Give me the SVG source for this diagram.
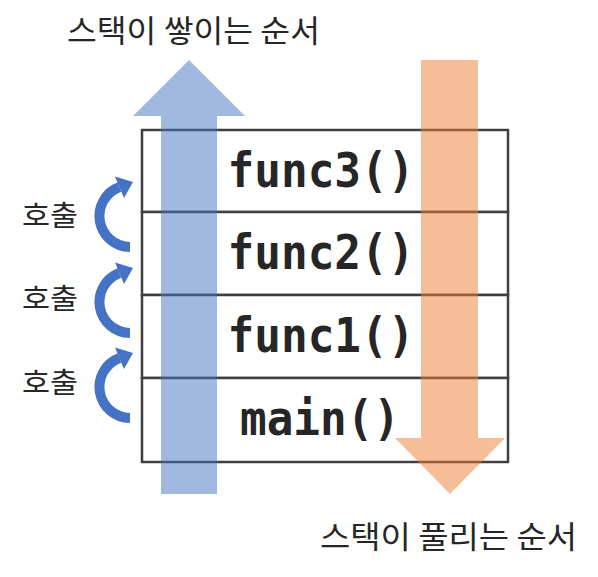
<svg xmlns="http://www.w3.org/2000/svg" width="598" height="577" viewBox="0 0 598 577">
<style>
.title{font-family:"Noto Sans CJK KR","Noto Sans",sans-serif;font-size:31px;fill:#262626}
.call{font-family:"Noto Sans CJK KR","Noto Sans",sans-serif;font-size:28px;fill:#262626}
.fn{font-family:"DejaVu Sans Mono","Liberation Mono",monospace;font-weight:bold;font-size:48px;fill:#262626;text-anchor:middle}
.row{fill:#fff;stroke:#404040;stroke-width:2.5}
.curl{fill:none;stroke:#4472C4;stroke-width:10}
</style>
<defs>
<g id="curlArrow">
<path class="curl" d="M130,247 A31,31 0 0 1 119.5,187"/>
<polygon points="133,182 115,176.5 124,198" fill="#4472C4"/>
</g>
</defs>
<g id="stack">
<g id="row-func3"><rect class="row" x="142" y="130" width="366" height="82"/></g>
<g id="row-func2"><rect class="row" x="142" y="212" width="366" height="83"/></g>
<g id="row-func1"><rect class="row" x="142" y="295" width="366" height="83"/></g>
<g id="row-main"><rect class="row" x="142" y="378" width="366" height="84"/></g>
</g>
<g id="connectors">
<polygon id="push-arrow" points="189,60 245,116 217,116 217,494 161,494 161,116 133,116" fill="#4472C4" fill-opacity="0.5"/>
<polygon id="pop-arrow" points="421,60 478,60 478,438 505,438 450,494 395,438 421,438" fill="#ED7D31" fill-opacity="0.5"/>
<use href="#curlArrow"/>
<use href="#curlArrow" transform="translate(0,86)"/>
<use href="#curlArrow" transform="translate(0,171)"/>
</g>
<g id="labels">
<text class="fn" x="321" y="187" textLength="187" lengthAdjust="spacingAndGlyphs">func3()</text>
<text class="fn" x="321" y="269" textLength="187" lengthAdjust="spacingAndGlyphs">func2()</text>
<text class="fn" x="321" y="352" textLength="187" lengthAdjust="spacingAndGlyphs">func1()</text>
<text class="fn" x="320" y="435" textLength="160" lengthAdjust="spacingAndGlyphs">main()</text>
<text class="title" x="67" y="42" textLength="253" lengthAdjust="spacingAndGlyphs">스택이 쌓이는 순서</text>
<text class="title" x="320" y="548" textLength="257" lengthAdjust="spacingAndGlyphs">스택이 풀리는 순서</text>
<text class="call" x="22" y="226" textLength="56" lengthAdjust="spacingAndGlyphs">호출</text>
<text class="call" x="22" y="309" textLength="56" lengthAdjust="spacingAndGlyphs">호출</text>
<text class="call" x="22" y="393" textLength="56" lengthAdjust="spacingAndGlyphs">호출</text>
</g>
</svg>
